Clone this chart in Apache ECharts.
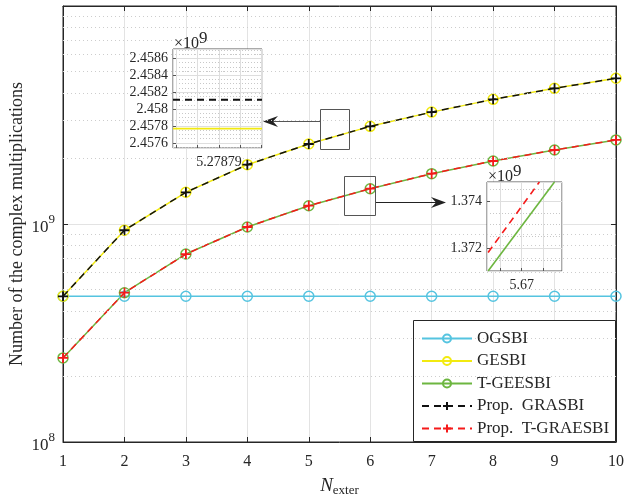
<!DOCTYPE html>
<html><head><meta charset="utf-8">
<script src="https://cdn.jsdelivr.net/npm/echarts@6/dist/echarts.min.js"></script>
<style>html,body{margin:0;padding:0;background:#fff}#c{width:625px;height:497px}</style>
</head><body><div id="c"></div>
<script>
// ---------- data ----------
const nExter   = [1, 2, 3, 4, 5, 6, 7, 8, 9, 10];
const ogsbi    = [4.66e8, 4.66e8, 4.66e8, 4.66e8, 4.66e8, 4.66e8, 4.66e8, 4.66e8, 4.66e8, 4.66e8];
const gesbi    = [4.66e8, 9.36e8, 1.398e9, 1.871e9, 2.328e9, 2.805e9, 3.26e9, 3.73e9, 4.19e9, 4.66e9];
const tgeesbi  = [2.43e8, 4.84e8, 7.28e8, 9.69e8, 1.213e9, 1.452e9, 1.702e9, 1.945e9, 2.185e9, 2.43e9];
const grasbi   = [4.66e8, 9.36e8, 1.398e9, 1.871e9, 2.328e9, 2.805e9, 3.26e9, 3.73e9, 4.19e9, 4.66e9];
const tgraesbi = [2.43e8, 4.84e8, 7.28e8, 9.69e8, 1.213e9, 1.452e9, 1.702e9, 1.945e9, 2.185e9, 2.43e9];
const minorGrid = [2e8,3e8,4e8,5e8,6e8,7e8,8e8,9e8,2e9,3e9,4e9,5e9,6e9,7e9,8e9,9e9];

// inset 1 (units of 1e9)
const in1X       = [5.2787685, 5.2788102];
const in1Gesbi   = [2.45777, 2.45777];
const in1Grasbi  = [2.45811, 2.45811];
// inset 2 (units of 1e9)
const in2GreenX  = [5.66216, 5.67765];
const in2GreenY  = [1.37105, 1.3748];
const in2RedX    = [5.66216, 5.67413];
const in2RedY    = [1.37183, 1.3748];

const names = ['OGSBI', 'GESBI', 'T-GEESBI', 'Prop.  GRASBI', 'Prop.  T-GRAESBI'];
const C = {cyan:'#55C4E0', yellow:'#F2EA10', green:'#6DB640', black:'#111111', red:'#F51A1A'};
const FONT = '"Liberation Serif", "Times New Roman", serif';
const AX = '#262626';
const zip = (xs, ys) => xs.map((x, i) => [x, ys[i]]);
const plusSym = 'path://M0,5L10,5M5,0L5,10';

const chart = echarts.init(document.getElementById('c'), null, {renderer:'canvas'});

const circleSeries = (name, data, color) => ({
  name, type:'line', xAxisIndex:0, yAxisIndex:0, data: zip(nExter, data),
  symbol:'circle', symbolSize:10,
  lineStyle:{color, width:1.5},
  itemStyle:{color:'rgba(255,255,255,0)', borderColor:color, borderWidth:1.5},
  animation:false, z:2
});
const plusSeries = (name, data, color) => ({
  name, type:'line', xAxisIndex:0, yAxisIndex:0, data: zip(nExter, data),
  symbol:plusSym, symbolSize:10,
  lineStyle:{color, width:1.5, type:[7,5]},
  itemStyle:{color:'rgba(255,255,255,0)', borderColor:color, borderWidth:1.8},
  animation:false, z:3
});

const insetGrid = (l, t, w, h) => ({left:l, top:t, width:w, height:h, show:true,
  outerBoundsMode:'none', containLabel:false,
  backgroundColor:'#fff', borderColor:'#555', borderWidth:1, z:5});
const lbl = {fontFamily:FONT, fontSize:14, color:AX};
const expName = {
  name:'×10{p|9}', nameLocation:'end', nameGap:-8,
  nameTextStyle:{align:'left', fontFamily:FONT, fontSize:16, color:AX, padding:[0,0,0,1],
    rich:{p:{fontFamily:FONT, fontSize:17, color:AX, padding:[0,0,10,0]}}}
};

const option = {
  backgroundColor:'#fff',
  animation:false,
  grid:[
    {left:63, top:6, right:9, bottom:55, show:true, outerBoundsMode:'none', containLabel:false,
     borderColor:AX, borderWidth:1, backgroundColor:'rgba(0,0,0,0)'},
    insetGrid(173, 49, 89, 99),
    insetGrid(487, 182, 75, 89)
  ],
  legend:{
    data: names, orient:'vertical', left:416, top:325, itemWidth:50, itemHeight:10, itemGap:5.5,
    textStyle:{fontFamily:FONT, fontSize:17, color:AX}, z:6
  },
  xAxis:[
    {gridIndex:0, type:'value', min:1, max:10, interval:1,
     axisLine:{lineStyle:{color:AX}}, axisTick:{inside:true, length:5, lineStyle:{color:AX}},
     splitLine:{lineStyle:{color:'#e3e3e3'}},
     axisLabel:{fontFamily:FONT, fontSize:16, color:AX, margin:12},
     name:'{n|N}{s|exter}', nameLocation:'middle', nameGap:32,
     nameTextStyle:{rich:{n:{fontFamily:FONT, fontSize:19, fontStyle:'italic', color:AX},
                          s:{fontFamily:FONT, fontSize:13, color:AX, padding:[10,0,0,0]}}}},
    {gridIndex:0, type:'value', min:1, max:10, interval:1, position:'top',
     axisLine:{lineStyle:{color:AX}}, axisTick:{inside:true, length:5, lineStyle:{color:AX}},
     axisLabel:{show:false}, splitLine:{show:false}},
    {gridIndex:1, type:'value', min:in1X[0], max:in1X[1], splitNumber:4, z:5,
     axisLine:{show:false}, axisTick:{inside:true, length:3, lineStyle:{color:'#555'}},
     axisLabel:Object.assign({margin:7, showMinLabel:false, showMaxLabel:false,
        formatter:v => Math.abs(v-5.27879) < 1e-9 ? '5.27879' : ''}, lbl),
     splitLine:{lineStyle:{color:'#dedede'}},
     minorTick:{show:false}, minorSplitLine:{show:false}},
    {gridIndex:2, type:'value', min:5.6619, max:5.6794, splitNumber:3, z:5,
     axisLine:{show:false}, axisTick:{inside:true, length:3, lineStyle:{color:'#555'}},
     axisLabel:Object.assign({margin:7, showMinLabel:false, showMaxLabel:false,
        formatter:v => Math.abs(v-5.67) < 1e-9 ? '5.67' : ''}, lbl),
     splitLine:{lineStyle:{color:'#dedede'}},
     minorTick:{show:false}, minorSplitLine:{show:false}}
  ],
  yAxis:[
    {gridIndex:0, type:'log', logBase:10, min:1e8, max:1e10,
     axisLine:{lineStyle:{color:AX}}, axisTick:{inside:true, length:5, lineStyle:{color:AX}},
     splitLine:{lineStyle:{color:'#e3e3e3'}},
     axisLabel:{showMaxLabel:false, margin:8, color:AX,
        formatter:v => '{b|10}{p|' + Math.round(Math.log10(v)) + '}',
        rich:{b:{fontFamily:FONT, fontSize:17, color:AX, padding:[8,0,0,0]},
              p:{fontFamily:FONT, fontSize:13, color:AX, padding:[0,0,8,0]}}},
     name:'Number of the complex multiplications', nameLocation:'middle', nameGap:37,
     nameMoveOverlap:false,
     nameTextStyle:{fontFamily:FONT, fontSize:18, color:AX}},
    {gridIndex:0, type:'log', logBase:10, min:1e8, max:1e10, position:'right',
     axisLine:{lineStyle:{color:AX}}, axisTick:{inside:true, length:5, lineStyle:{color:AX}},
     axisLabel:{show:false}, splitLine:{show:false}},
    Object.assign({gridIndex:1, type:'value', min:2.45754, max:2.45871, splitNumber:6, z:5,
     axisLine:{show:false}, axisTick:{inside:true, length:3, lineStyle:{color:'#555'}},
     axisLabel:Object.assign({margin:5, showMinLabel:false, showMaxLabel:false,
        formatter:v => String(+v.toFixed(4))}, lbl),
     splitLine:{lineStyle:{color:'#dedede'}},
     minorTick:{show:false, splitNumber:4}, minorSplitLine:{show:true, lineStyle:{color:'#c8c8c8', type:[1,2]}}}, expName),
    Object.assign({gridIndex:2, type:'value', min:1.37105, max:1.3748, splitNumber:2, z:5,
     axisLine:{show:false}, axisTick:{inside:true, length:3, lineStyle:{color:'#555'}},
     axisLabel:Object.assign({margin:5, showMinLabel:false, showMaxLabel:false,
        formatter:v => v.toFixed(3)}, lbl),
     splitLine:{lineStyle:{color:'#dedede'}},
     minorTick:{show:false, splitNumber:4}, minorSplitLine:{show:true, lineStyle:{color:'#c8c8c8', type:[1,2]}}}, expName)
  ],
  series:[
    {type:'line', xAxisIndex:0, yAxisIndex:0, data:[], z:1, silent:true, legendHoverLink:false,
     markLine:{silent:true, symbol:'none', label:{show:false}, animation:false,
       lineStyle:{color:'#cdcdcd', width:1, type:[1,3]},
       data: minorGrid.map(v => ({yAxis:v}))}},
    circleSeries(names[0], ogsbi, C.cyan),
    circleSeries(names[1], gesbi, C.yellow),
    circleSeries(names[2], tgeesbi, C.green),
    plusSeries(names[3], grasbi, C.black),
    plusSeries(names[4], tgraesbi, C.red),
    // inset 1
    {type:'line', xAxisIndex:2, yAxisIndex:2, data:zip(in1X, in1Gesbi), symbol:'none', z:6,
     lineStyle:{color:C.yellow, width:1.8}, legendHoverLink:false, silent:true},
    {type:'line', xAxisIndex:2, yAxisIndex:2, data:zip(in1X, in1Grasbi), symbol:'none', z:6,
     lineStyle:{color:C.black, width:1.8, type:[7,5]}, silent:true},
    // inset 2
    {type:'line', xAxisIndex:3, yAxisIndex:3, data:zip(in2GreenX, in2GreenY), symbol:'none', z:6,
     lineStyle:{color:C.green, width:1.6}, silent:true},
    {type:'line', xAxisIndex:3, yAxisIndex:3, data:zip(in2RedX, in2RedY), symbol:'none', z:6,
     lineStyle:{color:C.red, width:1.6, type:[7,5]}, silent:true}
  ],
  graphic:[
    {type:'rect', shape:{x:413.5, y:320.5, width:202, height:121}, z:3,
     style:{fill:'#fff', stroke:AX, lineWidth:1}},
    {type:'rect', shape:{x:320.5, y:109.5, width:29, height:40}, z:4,
     style:{fill:'none', stroke:'#555', lineWidth:1}},
    {type:'line', shape:{x1:320, y1:121.5, x2:270, y2:121.5}, z:4, style:{stroke:'#555', lineWidth:1}},
    {type:'polygon', shape:{points:[[263,121.5],[278,116],[273,121.5],[278,127]]}, z:4, style:{fill:'#222'}},
    {type:'rect', shape:{x:344.5, y:176.5, width:31, height:39}, z:4,
     style:{fill:'none', stroke:'#555', lineWidth:1}},
    {type:'line', shape:{x1:376, y1:202.5, x2:440, y2:202.5}, z:4, style:{stroke:'#222', lineWidth:1}},
    {type:'polygon', shape:{points:[[446,202.5],[431,197],[436,202.5],[431,208]]}, z:4, style:{fill:'#222'}}
  ]
};
chart.setOption(option);
</script></body></html>
